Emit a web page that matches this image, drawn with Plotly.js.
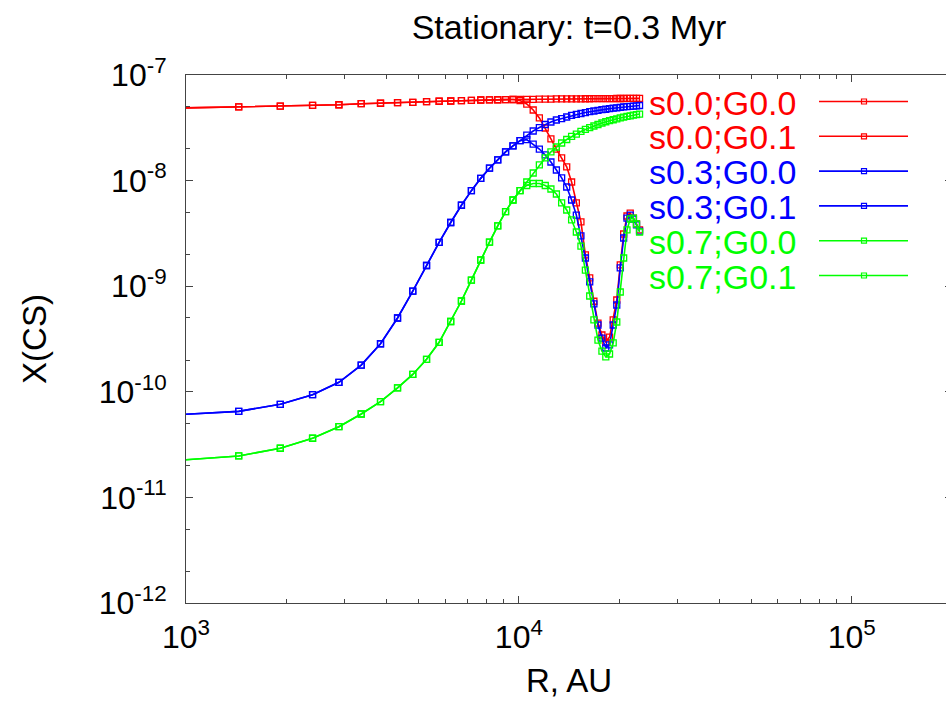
<!DOCTYPE html>
<html><head><meta charset="utf-8">
<script src="https://cdn.plot.ly/plotly-3.0.1.min.js"></script>
<style>
html,body{margin:0;padding:0;overflow:hidden;background:#fff;width:946px;height:709px}
#chart{width:1000px;height:709px}
</style>
</head><body><div id="chart"></div>
<script>
// Radius grid (AU)
const R = [960,1440,1920,2400,2880,3360,3840,4320,4800,5280,5760,6240,6720,7200,7680,8160,8640,9120,9600,
  10080,10560,11040,11520,12000,12480,12960,13440,13920,14400,14880,15360,15840,16320,16800,17280,17760,
  18240,18720,19200,19680,20160,20640,21120,21600,22080,22560,23040];

// s0.0 : shared part (960..9600)
const redShared = [4.87e-8,4.98e-8,5.08e-8,5.16e-8,5.23e-8,5.35e-8,5.40e-8,5.47e-8,5.51e-8,5.59e-8,
  5.64e-8,5.67e-8,5.71e-8,5.76e-8,5.80e-8,5.81e-8,5.83e-8,5.85e-8,5.86e-8];
// 10080..23040
const redG00tail = [5.87e-8,5.88e-8,5.89e-8,5.90e-8,5.91e-8,5.92e-8,5.93e-8,5.93e-8,5.94e-8,5.94e-8,
  5.95e-8,5.95e-8,5.96e-8,5.96e-8,5.97e-8,5.97e-8,5.97e-8,5.98e-8,5.98e-8,5.98e-8,5.99e-8,5.99e-8,
  5.99e-8,6.00e-8,6.00e-8,6.00e-8,6.01e-8,6.01e-8];
const redG01tail = [5.73e-8,5.31e-8,4.66e-8,3.92e-8,3.15e-8,2.48e-8,1.99e-8,1.64e-8,1.35e-8,9.70e-9,
  6.14e-9,4.06e-9,1.98e-9,1.20e-9,7.20e-10,4.48e-10,3.45e-10,2.96e-10,3.30e-10,4.79e-10,7.40e-10,
  1.59e-9,3.12e-9,4.62e-9,4.93e-9,4.42e-9,3.88e-9,3.41e-9];

// s0.3 : shared part (960..10080)
const blueShared = [6.08e-11,6.53e-11,7.61e-11,9.39e-11,1.23e-10,1.79e-10,2.85e-10,5.00e-10,9.00e-10,
  1.57e-9,2.60e-9,4.01e-9,5.84e-9,8.03e-9,1.05e-8,1.31e-8,1.57e-8,1.87e-8,2.13e-8,2.39e-8];
// 10560..23040
const blueG00tail = [2.70e-8,2.95e-8,3.18e-8,3.40e-8,3.59e-8,3.75e-8,3.87e-8,4.00e-8,4.14e-8,4.23e-8,
  4.32e-8,4.41e-8,4.49e-8,4.56e-8,4.63e-8,4.69e-8,4.74e-8,4.80e-8,4.85e-8,4.89e-8,4.93e-8,4.98e-8,
  5.01e-8,5.04e-8,5.08e-8,5.11e-8,5.14e-8];
const blueG01tail = [2.44e-8,2.22e-8,1.99e-8,1.75e-8,1.50e-8,1.26e-8,1.06e-8,8.70e-9,6.55e-9,4.72e-9,
  2.99e-9,1.85e-9,1.10e-9,6.80e-10,4.29e-10,3.23e-10,2.60e-10,2.78e-10,4.29e-10,6.64e-10,1.49e-9,
  2.86e-9,4.42e-9,4.72e-9,4.33e-9,3.80e-9,3.33e-9];

// s0.7 : shared part (960..10080)
const greenShared = [2.25e-11,2.47e-11,2.92e-11,3.63e-11,4.67e-11,6.16e-11,8.06e-11,1.09e-10,1.46e-10,
  2.03e-10,2.94e-10,4.63e-10,7.24e-10,1.14e-9,1.77e-9,2.62e-9,3.72e-9,5.08e-9,6.55e-9,8.03e-9];
// 10560..23040
const greenG00tail = [9.70e-9,1.18e-8,1.41e-8,1.64e-8,1.87e-8,2.08e-8,2.27e-8,2.45e-8,2.62e-8,2.76e-8,
  2.92e-8,3.05e-8,3.18e-8,3.29e-8,3.40e-8,3.51e-8,3.61e-8,3.69e-8,3.77e-8,3.85e-8,3.92e-8,3.99e-8,
  4.05e-8,4.11e-8,4.16e-8,4.22e-8,4.27e-8];
const greenG01tail = [8.99e-9,9.39e-9,9.39e-9,8.99e-9,8.33e-9,7.47e-9,6.14e-9,5.27e-9,4.24e-9,3.26e-9,
  2.40e-9,1.42e-9,8.08e-10,4.79e-10,3.09e-10,2.43e-10,2.14e-10,2.28e-10,2.90e-10,4.58e-10,8.81e-10,
  1.85e-9,3.41e-9,4.33e-9,4.42e-9,3.88e-9,3.26e-9];

const names = ['s0.0;G0.0','s0.0;G0.1','s0.3;G0.0','s0.3;G0.1','s0.7;G0.0','s0.7;G0.1'];
const colors = ['#ff0000','#ff0000','#0000ff','#0000ff','#00ff00','#00ff00'];
const series = [
  redShared.concat(redG00tail), redShared.concat(redG01tail),
  blueShared.concat(blueG00tail), blueShared.concat(blueG01tail),
  greenShared.concat(greenG00tail), greenShared.concat(greenG01tail)
];

const xTickVals = [1e3,1e4,1e5];
const xTickText = ['10<sup>3</sup>','10<sup>4</sup>','10<sup>5</sup>'];
const yTickVals = [1e-12,1e-11,1e-10,1e-9,1e-8,1e-7];
const yTickText = ['10<sup>-12</sup>','10<sup>-11</sup>','10<sup>-10</sup>','10<sup>-9</sup>','10<sup>-8</sup>','10<sup>-7</sup>'];

const xMinor = [];
[1e3,1e4,1e5].forEach(d => { for (let k = 2; k <= 9; k++) xMinor.push(k*d); });
const yMinor = [];
[1e-12,1e-11,1e-10,1e-9,1e-8].forEach(d => { yMinor.push(2*d); yMinor.push(5*d); });

const FONT = 'Liberation Sans, Arial, Helvetica, sans-serif';
const AX = '#444444';

const traces = series.map((ys, i) => ({
  x: R, y: ys, type: 'scatter', mode: 'lines+markers', name: names[i],
  line: {color: colors[i], width: 1.6},
  marker: {symbol: 'square-open', size: 6, color: colors[i], line: {width: 1.3, color: colors[i]}}
}));

// custom key (text left, sample right)
const L = 186, W = 766, T = 75, H = 528;
const px2x = p => (p - L) / W;
const px2y = p => (T + H - p) / H;
const annotations = [], shapes = [];
names.forEach((n, i) => {
  const yp = 101.5 + i * 34.8;
  annotations.push({xref: 'paper', yref: 'paper', x: px2x(798), y: px2y(yp + 1), xanchor: 'right', yanchor: 'middle',
    height: 34, valign: 'middle',
    text: n, showarrow: false, font: {family: FONT, size: 34, color: colors[i]}});
  shapes.push({type: 'line', xref: 'paper', yref: 'paper', x0: px2x(819), x1: px2x(908), y0: px2y(yp), y1: px2y(yp),
    line: {color: colors[i], width: 1.6}});
  shapes.push({type: 'rect', xref: 'paper', yref: 'paper', xsizemode: 'pixel', ysizemode: 'pixel',
    xanchor: px2x(864), yanchor: px2y(yp), x0: -2.5, x1: 2.5, y0: -2.5, y1: 2.5,
    line: {color: colors[i], width: 1.2}, fillcolor: 'rgba(0,0,0,0)'});
});

const layout = {
  width: 1000, height: 709,
  margin: {l: L, r: 1000 - L - W, t: T, b: 709 - T - H},
  paper_bgcolor: '#fff', plot_bgcolor: '#fff',
  showlegend: false,
  font: {family: FONT, color: '#000'},
  title: {text: 'Stationary: t=0.3 Myr', font: {family: FONT, size: 34, color: '#000'},
    x: 0.5, xref: 'paper', xanchor: 'center', y: 0.962, yref: 'container', yanchor: 'middle'},
  xaxis: {
    type: 'log', range: [3, Math.log10(2e5)], automargin: false,
    tickmode: 'array', tickvals: xTickVals, ticktext: xTickText,
    ticks: 'inside', ticklen: 7, tickwidth: 1, tickcolor: AX,
    showline: true, linecolor: AX, linewidth: 1, mirror: 'allticks',
    showgrid: false, zeroline: false, ticklabelstandoff: 6,
    tickfont: {family: FONT, size: 32, color: '#000'},
    minor: {tickmode: 'array', tickvals: xMinor, ticks: 'inside', ticklen: 4, tickwidth: 1, tickcolor: AX, showgrid: false},
    title: {text: 'R, AU', font: {family: FONT, size: 33, color: '#000'}, standoff: 14}
  },
  yaxis: {
    type: 'log', range: [-12, -7], automargin: false,
    tickmode: 'array', tickvals: yTickVals, ticktext: yTickText,
    ticks: 'inside', ticklen: 7, tickwidth: 1, tickcolor: AX,
    showline: true, linecolor: AX, linewidth: 1, mirror: 'allticks',
    showgrid: false, zeroline: false, ticklabelstandoff: 12,
    tickfont: {family: FONT, size: 32, color: '#000'},
    minor: {tickmode: 'array', tickvals: yMinor, ticks: 'inside', ticklen: 4, tickwidth: 1, tickcolor: AX, showgrid: false},
    title: {text: 'X(CS)', font: {family: FONT, size: 33, color: '#000'}, standoff: 42}
  },
  annotations: annotations,
  shapes: shapes
};

Plotly.newPlot('chart', traces, layout, {staticPlot: true, displayModeBar: false});
</script>
</body></html>
